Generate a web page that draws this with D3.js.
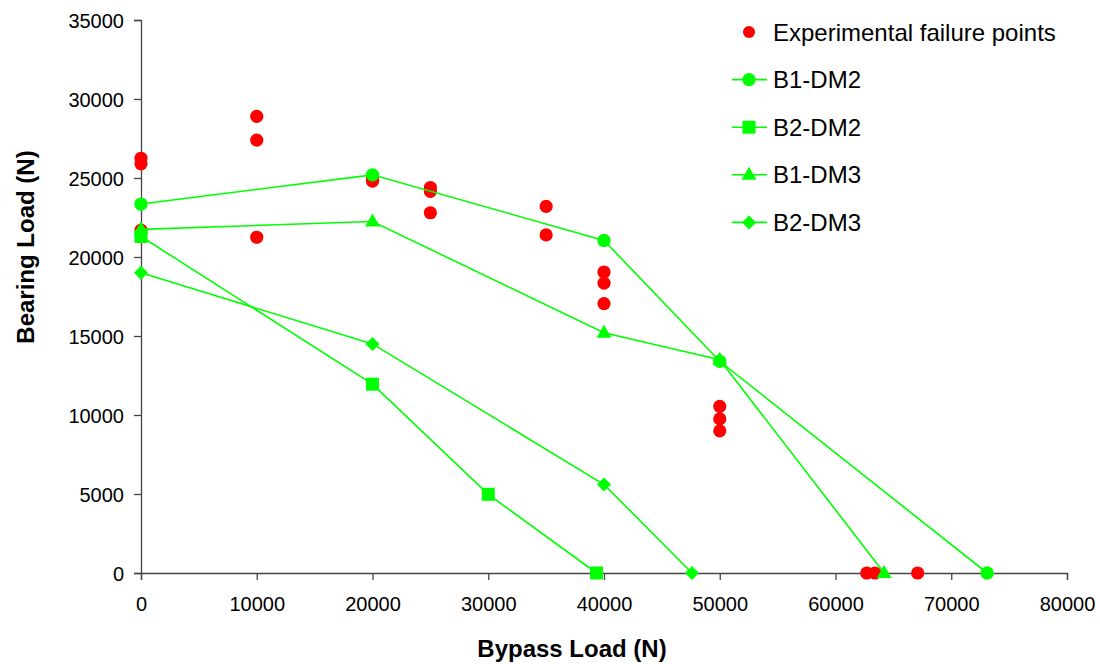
<!DOCTYPE html>
<html>
<head>
<meta charset="utf-8">
<script src="https://cdn.jsdelivr.net/npm/d3@7"></script>
<style>
  body { margin: 0; background: #fff; }
  text { font-family: "Liberation Sans", Arial, sans-serif; fill: #000; }
</style>
</head>
<body>
<div id="chart"></div>
<script>
// Data
const xTicks = [0, 10000, 20000, 30000, 40000, 50000, 60000, 70000, 80000];
const yTicks = [0, 5000, 10000, 15000, 20000, 25000, 30000, 35000];

const expX = [0, 0, 0, 10000, 10000, 10000, 20000, 20000, 25000, 25000, 25000, 35000, 35000,
              40000, 40000, 40000, 50000, 50000, 50000, 62700, 63400, 67100];
const expY = [26250, 25900, 21700, 28900, 27400, 21250, 24800, 25000, 24400, 24150, 22800, 23200, 21400,
              19050, 18350, 17050, 10550, 9750, 9000, 0, 0, 0];

const b1dm2X = [0, 20000, 40000, 50000, 73100];
const b1dm2Y = [23350, 25200, 21050, 13400, 0];
const b2dm2X = [0, 20000, 30000, 39350];
const b2dm2Y = [21300, 11950, 4980, 0];
const b1dm3X = [0, 20000, 40000, 50000, 64200];
const b1dm3Y = [21750, 22250, 15200, 13500, 0];
const b2dm3X = [0, 20000, 40000, 47600];
const b2dm3Y = [19000, 14500, 5600, 0];

const seriesNames = ["B1-DM2", "B2-DM2", "B1-DM3", "B2-DM3"];

const W = 1100, H = 664;
const margin = {top: 20, right: 33, bottom: 91, left: 141};
const width = W - margin.left - margin.right,
      height = H - margin.top - margin.bottom;

const svg = d3.select("#chart").append("svg")
    .attr("width", W)
    .attr("height", H);

const g = svg.append("g")
    .attr("transform", `translate(${margin.left},${margin.top})`);

const x = d3.scaleLinear().domain([0, 80000]).range([0, width]);
const y = d3.scaleLinear().domain([0, 35000]).range([height, 0]);

// axes
const xAxis = g.append("g")
    .attr("transform", `translate(0,${height})`)
    .call(d3.axisBottom(x).tickValues(xTicks).tickSize(7).tickPadding(17).tickFormat(d3.format("d")));
const yAxis = g.append("g")
    .call(d3.axisLeft(y).tickValues(yTicks).tickSize(7).tickPadding(10).tickFormat(d3.format("d")));

[xAxis, yAxis].forEach(a => {
  a.selectAll(".domain").attr("stroke", "#444").attr("stroke-width", 1.3);
  a.selectAll(".tick line").attr("stroke", "#444").attr("stroke-width", 1.3);
  a.selectAll(".tick text").style("font-size", "20px").attr("fill", "#000");
});
yAxis.selectAll(".tick text").attr("dy", "0.35em");

// marker shapes
function markerPath(type) {
  if (type === "circle") return d3.symbol(d3.symbolCircle, 140)();
  if (type === "square") return "M-6.5,-6.5H6.5V6.5H-6.5Z";
  if (type === "triangle") return "M0,-8L7.5,5L-7.5,5Z";
  return "M0,-7L7,0L0,7L-7,0Z"; // diamond
}

const series = [
  {name: seriesNames[0], xs: b1dm2X, ys: b1dm2Y, shape: "circle"},
  {name: seriesNames[1], xs: b2dm2X, ys: b2dm2Y, shape: "square"},
  {name: seriesNames[2], xs: b1dm3X, ys: b1dm3Y, shape: "triangle"},
  {name: seriesNames[3], xs: b2dm3X, ys: b2dm3Y, shape: "diamond"}
];

const green = "#00ff00", red = "#ff0000";

// experimental points
g.selectAll(".exp")
  .data(expX.map((v, i) => ({x: v, y: expY[i]})))
  .join("circle")
    .attr("class", "exp")
    .attr("cx", d => x(d.x))
    .attr("cy", d => y(d.y))
    .attr("r", 6.6)
    .attr("fill", red);

// lines
const line = d3.line().x(d => x(d.x)).y(d => y(d.y));
series.forEach(s => {
  s.pts = s.xs.map((v, i) => ({x: v, y: s.ys[i]}));
  g.append("path")
    .datum(s.pts)
    .attr("d", line)
    .attr("fill", "none")
    .attr("stroke", green)
    .attr("stroke-width", 1.6);
});

// markers (triangles first so circles/squares sit on top)
[2, 3, 1, 0].forEach(k => {
  const s = series[k];
  g.selectAll(".m" + k)
    .data(s.pts)
    .join("path")
      .attr("class", "m" + k)
      .attr("transform", d => `translate(${x(d.x)},${y(d.y)})`)
      .attr("d", markerPath(s.shape))
      .attr("fill", green);
});

// axis titles
svg.append("text")
  .attr("x", 572)
  .attr("y", 657)
  .attr("text-anchor", "middle")
  .style("font-size", "24px")
  .style("font-weight", "bold")
  .text("Bypass Load (N)");

svg.append("text")
  .attr("transform", `translate(34,247) rotate(-90)`)
  .attr("text-anchor", "middle")
  .style("font-size", "24px")
  .style("font-weight", "bold")
  .text("Bearing Load (N)");

// legend
const legend = svg.append("g").attr("transform", "translate(732,32)");
const legendItems = [{name: "Experimental failure points", shape: "exp"}].concat(series);
legendItems.forEach((d, i) => {
  const row = legend.append("g").attr("transform", `translate(0,${i * 47.6})`);
  if (d.shape === "exp") {
    row.append("circle").attr("cx", 17).attr("cy", 0).attr("r", 6).attr("fill", red);
  } else {
    row.append("line").attr("x1", 0).attr("x2", 35).attr("y1", 0).attr("y2", 0)
      .attr("stroke", green).attr("stroke-width", 1.6);
    row.append("path").attr("transform", "translate(17,0)")
      .attr("d", markerPath(d.shape)).attr("fill", green);
  }
  row.append("text")
    .attr("x", 41)
    .attr("y", 0)
    .attr("dy", "0.36em")
    .style("font-size", "24px")
    .text(d.name);
});
</script>
</body>
</html>
